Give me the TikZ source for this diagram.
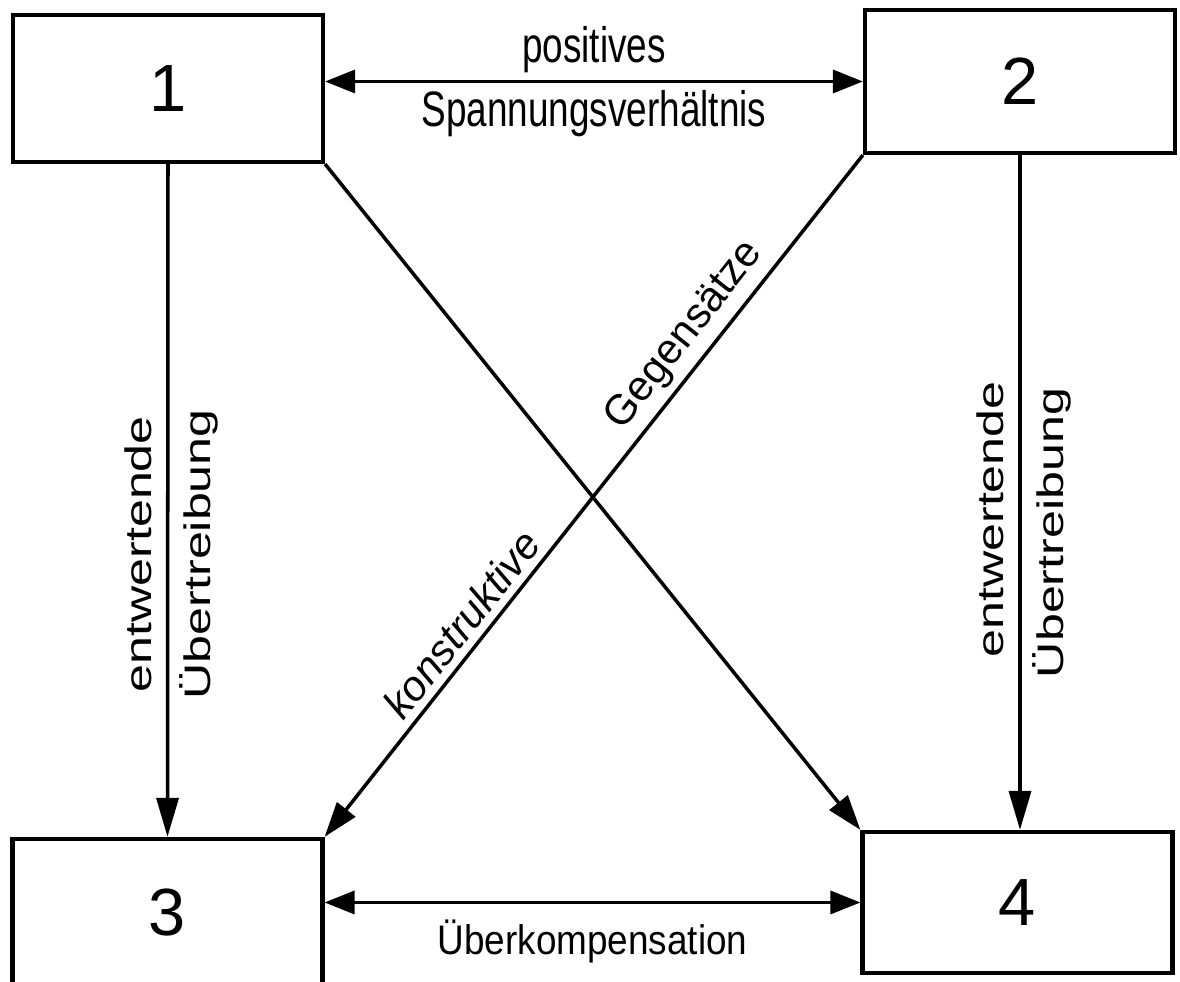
\documentclass[tikz,border=0pt]{standalone}
\usepackage{fontspec}
\usepackage{graphicx}
\setmainfont{Liberation Sans}
\usetikzlibrary{arrows.meta}

% stretched label text
\newcommand{\tallt}[2]{\scalebox{1}[#1]{#2}}
\newcommand{\longt}[2]{\scalebox{#1}[1]{#2}}

\begin{document}
\begin{tikzpicture}[
    box/.style={draw, line width=2.4pt, minimum width=6.2cm, minimum height=2.9cm,
      inner sep=0pt, font=\fontsize{38}{40}\selectfont},
    link/.style={line width=2pt},
    lab/.style={font=\fontsize{21}{25}\selectfont, inner sep=4pt},
    both/.style={{Triangle[length=0.6cm,width=0.46cm]}-{Triangle[length=0.6cm,width=0.46cm]}},
    down/.style={-{Triangle[length=0.78cm,width=0.44cm]}},
    diag/.style={-{Triangle[length=0.7cm,width=0.46cm]}}]

      \useasboundingbox (0,0) rectangle (23.6,19.64);

      \begin{scope}[every node/.style={box}]
        \node[minimum height=2.94cm] (1) at (3.36,17.87) {1};
        \node[minimum height=2.86cm] (2) at (20.40,18.01) {2};
        \node[minimum height=2.94cm] (3) at (3.35,1.39)   {3};
        \node[minimum height=2.82cm] (4) at (20.35,1.59)  {4};
      \end{scope}

      \begin{scope}[every node/.style={lab}]
        \path (2.west -| 1.east) edge[link,both]
          node[above] {\tallt{1.35}{positives}}
          node[below] {\tallt{1.35}{Spannungsverhältnis}} (2.west);
        \path (4.west -| 3.east) edge[link,both]
          node[below, yshift=-5pt] {\tallt{1.12}{Überkompensation}} (4.west);

        \path (1.south) edge[link,down]
          node[pos=.58, rotate=90, anchor=south, inner sep=8pt] {\longt{1.36}{entwertende}}
          node[pos=.58, rotate=90, anchor=north, inner sep=6pt] {\longt{1.36}{Übertreibung}} (3.north);
        \path (2.south) edge[link,down]
          node[pos=.54, rotate=90, anchor=south, inner sep=8pt] {\longt{1.36}{entwertende}}
          node[pos=.56, rotate=90, anchor=north, inner sep=6pt] {\longt{1.36}{Übertreibung}} (2.south |- 4.north);

        \path (1.south east) edge[link,diag] (4.north west);
        \path (2.south west) edge[link,diag]
          node[pos=.29, sloped, above, font=\fontsize{24}{28}\selectfont] {Gegensätze}
          node[pos=.71, sloped, above, font=\fontsize{24}{28}\selectfont\itshape] {konstruktive} (3.north east);
      \end{scope}

    \end{tikzpicture}
\end{document}
